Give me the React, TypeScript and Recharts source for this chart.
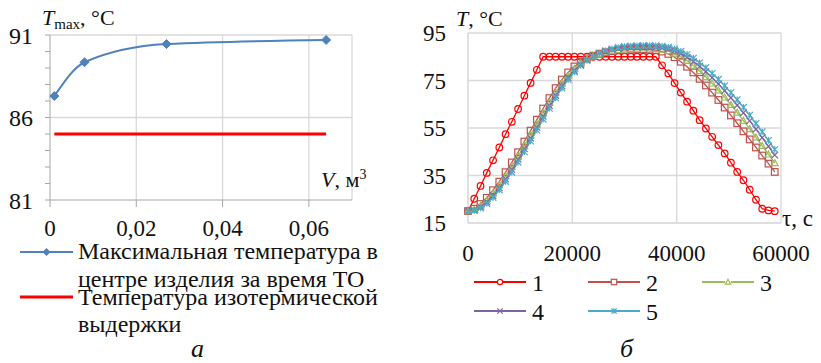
import React from "react";
import { LineChart, Line, XAxis, YAxis, CartesianGrid } from "recharts";

const FONT = "'Liberation Serif', 'Times New Roman', serif";
const TEXT = "#111";

// left chart (а)
const volumes = [0.001, 0.008, 0.027, 0.064];
const maxTemps = [87.3, 89.35, 90.45, 90.7];
const holdTemps = [85, 85, 85, 85];
const volTicks = [0, 0.02, 0.04, 0.06];
const tmaxTicks = [81, 82, 83, 84, 85, 86, 87, 88, 89, 90, 91];
const tmaxMajor = [81, 86, 91];

// right chart (б)
const times = [
  0, 1200, 2400, 3600, 4800, 6000, 7200, 8400, 9600, 10800,
  12000, 13200, 14400, 15600, 16800, 18000, 19200, 20400, 21600, 22800,
  24000, 25200, 26400, 27600, 28800, 30000, 31200, 32400, 33600, 34800,
  36000, 37200, 38400, 39600, 40800, 42000, 43200, 44400, 45600, 46800,
  48000, 49200, 50400, 51600, 52800, 54000, 55200, 56400, 57600, 58800,
];
const s1 = [
  20, 25.2, 30.6, 36.1, 41.4, 46.8, 52.4, 57.6, 63.0, 68.6,
  74.0, 79.5, 85, 85, 85, 85, 85, 85, 85, 85,
  85, 85, 85, 85, 85, 85, 85, 85, 85, 85,
  85, 81.4, 78.0, 73.9, 69.9, 66.1, 62.3, 58.3, 54.8, 51.3,
  47.8, 44.3, 40.4, 36.5, 33.0, 29.0, 24.8, 21.0, 20.3, 20.0,
];
const s2 = [
  20, 21.0, 23.0, 25.6, 28.8, 32.4, 36.4, 40.5, 44.8, 49.3,
  53.9, 58.5, 63.2, 67.6, 71.8, 75.4, 78.4, 80.9, 82.8, 84.3,
  85.5, 86.3, 86.9, 87.4, 87.7, 87.9, 88.0, 88.1, 88.1, 88.0,
  87.8, 87.2, 86.2, 84.8, 82.9, 80.8, 78.4, 75.7, 72.9, 69.9,
  66.8, 63.6, 60.3, 57.0, 53.6, 50.2, 46.8, 43.4, 40.0, 36.5,
];
const s3 = [
  20, 20.6, 22.2, 24.5, 27.4, 30.9, 34.8, 38.9, 43.2, 47.6,
  52.1, 56.7, 61.3, 65.8, 70.0, 73.8, 77.1, 79.9, 82.1, 83.9,
  85.2, 86.2, 86.9, 87.5, 87.9, 88.2, 88.4, 88.5, 88.6, 88.5,
  88.4, 88.1, 87.4, 86.4, 85.0, 83.3, 81.3, 79.0, 76.5, 73.8,
  70.9, 67.9, 64.8, 61.5, 58.1, 54.6, 51.1, 47.5, 43.9, 40.3,
];
const s4 = [
  20, 20.4, 21.7, 23.8, 26.5, 29.8, 33.5, 37.5, 41.8, 46.2,
  50.7, 55.3, 59.9, 64.4, 68.7, 72.7, 76.2, 79.2, 81.7, 83.7,
  85.2, 86.4, 87.3, 88.0, 88.5, 88.8, 89.0, 89.1, 89.2, 89.1,
  89.0, 88.9, 88.4, 87.5, 86.3, 84.8, 83.0, 81.0, 78.7, 76.2,
  73.5, 70.7, 67.7, 64.6, 61.4, 58.0, 54.5, 50.9, 47.3, 43.6,
];
const s5 = [
  20, 20.3, 21.3, 23.2, 25.7, 28.9, 32.5, 36.4, 40.6, 45.0,
  49.5, 54.1, 58.7, 63.3, 67.7, 71.8, 75.4, 78.6, 81.3, 83.4,
  85.1, 86.5, 87.5, 88.3, 88.9, 89.3, 89.5, 89.6, 89.7, 89.7,
  89.6, 89.4, 89.0, 88.3, 87.3, 86.0, 84.4, 82.5, 80.4, 78.0,
  75.5, 72.8, 69.9, 66.9, 63.7, 60.4, 56.9, 53.4, 49.8, 46.0,
];
const timeTicks = [0, 20000, 40000, 60000];
const tempTicks = [15, 35, 55, 75, 95];

const leftData = volumes.map((v, i) => ({ v, tmax: maxTemps[i], hold: holdTemps[i] }));
const rightData = times.map((t, i) => ({ t, s1: s1[i], s2: s2[i], s3: s3[i], s4: s4[i], s5: s5[i] }));

type Kind = "circle" | "square" | "triangle" | "cross" | "star";

const series: { key: string; name: string; color: string; kind: Kind }[] = [
  { key: "s1", name: "1", color: "#FF0000", kind: "circle" },
  { key: "s2", name: "2", color: "#C0504D", kind: "square" },
  { key: "s3", name: "3", color: "#9BBB59", kind: "triangle" },
  { key: "s4", name: "4", color: "#8064A2", kind: "cross" },
  { key: "s5", name: "5", color: "#4BACC6", kind: "star" },
];

function Marker({ kind, cx, cy, r, color }: { kind: Kind; cx: number; cy: number; r: number; color: string }) {
  const common = { fill: "none", stroke: color, strokeWidth: 1.2 };
  if (kind === "circle") return <circle cx={cx} cy={cy} r={r} {...common} />;
  if (kind === "square") return <rect x={cx - r} y={cy - r} width={2 * r} height={2 * r} {...common} />;
  if (kind === "triangle")
    return <path d={`M${cx},${cy - r}L${cx + r},${cy + r * 0.8}L${cx - r},${cy + r * 0.8}Z`} {...common} />;
  if (kind === "cross")
    return <path d={`M${cx - r},${cy - r}L${cx + r},${cy + r}M${cx - r},${cy + r}L${cx + r},${cy - r}`} {...common} />;
  return (
    <path
      d={`M${cx - r},${cy - r}L${cx + r},${cy + r}M${cx - r},${cy + r}L${cx + r},${cy - r}M${cx},${cy - r}L${cx},${cy + r}`}
      {...common}
    />
  );
}

function makeDot(kind: Kind, color: string, r: number) {
  return (props: any) => {
    const { cx, cy, index } = props;
    if (cx == null || cy == null) return <g key={`${kind}-${index}`} />;
    return (
      <g key={`${kind}-${index}`}>
        <Marker kind={kind} cx={cx} cy={cy} r={r} color={color} />
      </g>
    );
  };
}

function diamondDot(props: any) {
  const { cx, cy, index } = props;
  if (cx == null || cy == null) return <g key={`dm-${index}`} />;
  const r = 4.5;
  return (
    <path
      key={`dm-${index}`}
      d={`M${cx},${cy - r}L${cx + r},${cy}L${cx},${cy + r}L${cx - r},${cy}Z`}
      fill="#4F81BD"
      stroke="#4F81BD"
    />
  );
}

function LeftYTick(props: any) {
  const { x, y, payload } = props;
  if (!tmaxMajor.includes(payload.value)) return <g />;
  return (
    <text x={x} y={y} dy="0.355em" textAnchor="end" fontFamily={FONT} fontSize={24} fill={TEXT}>
      {payload.value}
    </text>
  );
}

const fmtVol = (v: number) => (v === 0 ? "0" : v.toFixed(2).replace(".", ","));

function LeftChart() {
  return (
    <LineChart
      width={360}
      height={250}
      data={leftData}
      margin={{ top: 35, right: 8, left: 0, bottom: 0 }}
      style={{ position: "absolute", left: 0, top: 0 }}
    >
      <CartesianGrid
        stroke="#D9D9D9"
        strokeWidth={1.3}
        horizontalValues={[86, 91]}
        verticalValues={[0.02, 0.04, 0.06, 0.07]}
      />
      <XAxis
        type="number"
        dataKey="v"
        domain={[0, 0.07]}
        ticks={volTicks}
        tickFormatter={fmtVol}
        interval={0}
        height={50}
        tickSize={7}
        tickMargin={13}
        stroke="#A6A6A6"
        tick={{ fill: TEXT, fontFamily: FONT, fontSize: 23 }}
      />
      <YAxis
        type="number"
        domain={[81, 91]}
        ticks={tmaxTicks}
        interval={0}
        width={50}
        tickSize={5}
        tickMargin={12}
        stroke="#A6A6A6"
        tick={<LeftYTick />}
      />
      <Line
        dataKey="hold"
        stroke="#FF0000"
        strokeWidth={3}
        dot={false}
        activeDot={false}
        isAnimationActive={false}
      />
      <Line
        type="monotone"
        dataKey="tmax"
        stroke="#4F81BD"
        strokeWidth={2}
        dot={diamondDot}
        activeDot={false}
        isAnimationActive={false}
      />
    </LineChart>
  );
}

function RightChart() {
  return (
    <LineChart
      width={401}
      height={270}
      data={rightData}
      margin={{ top: 33, right: 40, left: 0, bottom: 0 }}
      style={{ position: "absolute", left: 420, top: 0 }}
    >
      <CartesianGrid stroke="#D9D9D9" strokeWidth={1.3} />
      <XAxis
        type="number"
        dataKey="t"
        domain={[0, 60000]}
        ticks={timeTicks}
        interval={0}
        height={47}
        tickLine={false}
        tickSize={0}
        tickMargin={22}
        stroke="#D9D9D9"
        tick={{ fill: TEXT, fontFamily: FONT, fontSize: 23 }}
      />
      <YAxis
        type="number"
        domain={[15, 95]}
        ticks={tempTicks}
        interval={0}
        width={48}
        tickLine={false}
        tickSize={0}
        tickMargin={22}
        stroke="#D9D9D9"
        tick={{ fill: TEXT, fontFamily: FONT, fontSize: 23 }}
      />
      {series.map((s) => (
        <Line
          key={s.key}
          dataKey={s.key}
          stroke={s.color}
          strokeWidth={1.3}
          dot={makeDot(s.kind, s.color, 3.3)}
          activeDot={false}
          isAnimationActive={false}
        />
      ))}
    </LineChart>
  );
}

function LegendSwatch({ color, kind, width = 52, thick = 2.5, diamond }: any) {
  return (
    <svg width={width} height={12} style={{ display: "block" }}>
      <line x1={0} y1={6} x2={width} y2={6} stroke={color} strokeWidth={thick} />
      {diamond && <path d={`M${width / 2},2L${width / 2 + 4},6L${width / 2},10L${width / 2 - 4},6Z`} fill={color} />}
      {kind && (
        <g>
          <rect
            x={width / 2 - 3}
            y={3}
            width={6}
            height={6}
            fill="#fff"
            opacity={kind === "circle" || kind === "square" || kind === "triangle" ? 1 : 0}
          />
          <Marker kind={kind} cx={width / 2} cy={6} r={2.7} color={color} />
        </g>
      )}
    </svg>
  );
}

// one legend text line, placed by its baseline (tight line box)
function LegendLine({ x, baseline, children }: { x: number; baseline: number; children: React.ReactNode }) {
  return (
    <div
      style={{
        position: "absolute",
        left: x,
        top: baseline - 17,
        fontFamily: FONT,
        fontSize: 24,
        lineHeight: "18px",
        color: TEXT,
        whiteSpace: "nowrap",
      }}
    >
      {children}
    </div>
  );
}

export default function App() {
  const right = [
    { s: series[0], x: 474, y: 282 },
    { s: series[1], x: 588, y: 282 },
    { s: series[2], x: 702, y: 282 },
    { s: series[3], x: 474, y: 311 },
    { s: series[4], x: 588, y: 311 },
  ];
  return (
    <div style={{ position: "absolute", left: 0, top: 0, width: 821, height: 363, background: "#fff", overflow: "hidden" }}>
      <LeftChart />
      <RightChart />

      {/* left legend */}
      <div style={{ position: "absolute", left: 20, top: 246 }}>
        <LegendSwatch color="#4F81BD" diamond width={53} thick={2} />
      </div>
      <LegendLine x={78} baseline={259}>Максимальная температура в</LegendLine>
      <LegendLine x={78} baseline={287}>центре изделия за время ТО</LegendLine>
      <div style={{ position: "absolute", left: 20, top: 291 }}>
        <LegendSwatch color="#FF0000" width={53} thick={3} />
      </div>
      <LegendLine x={78} baseline={305}>Температура изотермической</LegendLine>
      <LegendLine x={78} baseline={332}>выдержки</LegendLine>

      {/* right legend */}
      {right.map(({ s, x, y }) => (
        <div key={s.key}>
          <div style={{ position: "absolute", left: x, top: y - 6 }}>
            <LegendSwatch color={s.color} kind={s.kind} width={52} thick={2} />
          </div>
          <LegendLine x={x + 58} baseline={y + 9}>
            {s.name}
          </LegendLine>
        </div>
      ))}

      <svg width={821} height={363} style={{ position: "absolute", left: 0, top: 0, pointerEvents: "none" }}>
        <g fontFamily={FONT} fill={TEXT}>
          <text x={42} y={25} fontSize={22}>
            <tspan fontStyle="italic">T</tspan>
            <tspan fontSize={15} dy={4}>max</tspan>
            <tspan dy={-4}>, °C</tspan>
          </text>
          <text x={321} y={187} fontSize={22}>
            <tspan fontStyle="italic">V</tspan>
            <tspan>, м</tspan>
            <tspan fontSize={14} dy={-8}>3</tspan>
          </text>
          <text x={456} y={26} fontSize={22}>
            <tspan fontStyle="italic">T</tspan>
            <tspan>, °C</tspan>
          </text>
          <text x={782} y={226} fontSize={23}>τ, с</text>
          <text x={191} y={357} fontSize={26} fontStyle="italic">а</text>
          <text x={620} y={357} fontSize={26} fontStyle="italic">б</text>
        </g>
      </svg>
    </div>
  );
}
